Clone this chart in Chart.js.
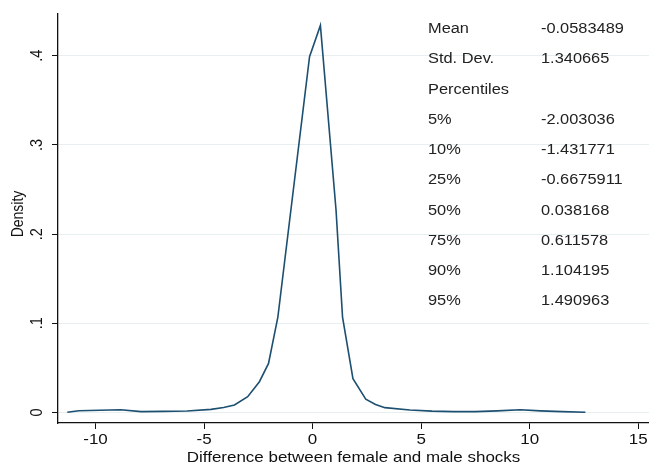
<!DOCTYPE html>
<html>
<head>
<meta charset="utf-8">
<script src="https://cdn.jsdelivr.net/npm/chart.js@4.4.1/dist/chart.umd.min.js"></script>
<style>
  html, body { margin: 0; padding: 0; background: #fff; }
</style>
</head>
<body>
<canvas id="densityChart" width="649" height="467"></canvas>
<script>
"use strict";

// kernel density of the female - male shock difference
const gridX = [-11.3, -10.77, -9.8, -8.84, -7.9, -6.9, -5.78, -4.68, -4.1, -3.6,
  -2.99, -2.45, -2.03, -1.6, -0.14, 0.36, 1.08, 1.38, 1.86, 2.45,
  2.9, 3.33, 4.48, 5.5, 6.5, 7.5, 8.5, 9.57, 10.5, 11.5, 12.57];
const density = [0.0002, 0.002, 0.0025, 0.003, 0.001, 0.0012, 0.0017, 0.0035, 0.0055, 0.0084,
  0.0177, 0.0345, 0.055, 0.107, 0.399, 0.434, 0.227, 0.107, 0.038, 0.015,
  0.009, 0.0054, 0.0028, 0.0015, 0.001, 0.001, 0.0018, 0.003, 0.0018, 0.001, 0.0002];

const xTicks = [-10, -5, 0, 5, 10, 15];
const yTicks = [0, 0.1, 0.2, 0.3, 0.4];

const statLabels = ["Mean", "Std. Dev.", "Percentiles", "5%", "10%", "25%", "50%", "75%", "90%", "95%"];
const statValues = ["-0.0583489", "1.340665", "", "-2.003036", "-1.431771", "-0.6675911",
  "0.038168", "0.611578", "1.104195", "1.490963"];

const xTitle = "Difference between female and male shocks";
const yTitle = "Density";

const FONT = "'Liberation Sans', Arial, Helvetica, sans-serif";
const SX = 1.17; // stata export is a bit wide

function yLabel(v) {
  if (v === 0) return "0";
  return v.toFixed(1).replace(/^0/, "");
}

function drawText(ctx, str, x, y, align, angle) {
  ctx.save();
  ctx.translate(x, y);
  ctx.scale(SX, 1);
  if (angle) ctx.rotate(angle);
  ctx.textAlign = align;
  ctx.textBaseline = "middle";
  ctx.fillText(str, 0, 0);
  ctx.restore();
}

const textPlugin = {
  id: "stataText",
  afterDraw(chart) {
    const ctx = chart.ctx;
    const xs = chart.scales.x;
    const ys = chart.scales.y;
    ctx.save();
    ctx.fillStyle = "#111";

    ctx.font = "14.5px " + FONT;
    xs.ticks.forEach((t) => {
      drawText(ctx, String(t.value), xs.getPixelForValue(t.value), 440, "center");
    });
    ys.ticks.forEach((t) => {
      drawText(ctx, yLabel(t.value), 37, ys.getPixelForValue(t.value), "center", -Math.PI / 2);
    });
    drawText(ctx, xTitle, (chart.chartArea.left + chart.chartArea.right) / 2, 458, "center");

    ctx.font = "14px " + FONT;
    drawText(ctx, yTitle, 18, 214, "center", -Math.PI / 2);

    ctx.fillStyle = "#222";
    statLabels.forEach((lab, i) => {
      const rowY = 29.3 + 30.26 * i;
      drawText(ctx, lab, 428, rowY, "left");
      if (statValues[i]) drawText(ctx, statValues[i], 541, rowY, "left");
    });
    ctx.restore();
  },
};

const ctx = document.getElementById("densityChart").getContext("2d");
const chart = new Chart(ctx, {
  type: "line",
  data: {
    datasets: [
      {
        data: gridX.map((x, i) => ({ x: x, y: density[i] })),
        borderColor: "#1d4f70",
        borderWidth: 1.6,
        pointRadius: 0,
        tension: 0,
        fill: false,
      },
    ],
  },
  options: {
    responsive: false,
    animation: false,
    events: [],
    layout: { padding: { top: 14, right: 0, left: 0, bottom: 0 } },
    plugins: { legend: { display: false }, tooltip: { enabled: false } },
    scales: {
      x: {
        type: "linear",
        min: -11.73,
        max: 15.5,
        afterBuildTicks: (s) => { s.ticks = xTicks.map((v) => ({ value: v })); },
        afterFit: (s) => { s.height = 44; },
        ticks: { display: false },
        grid: { drawOnChartArea: false, drawTicks: true, tickLength: 6, tickColor: "#111", tickWidth: 1 },
        border: { color: "#111", width: 1.3 },
      },
      y: {
        type: "linear",
        min: -0.0118,
        max: 0.4468,
        afterBuildTicks: (s) => { s.ticks = yTicks.map((v) => ({ value: v })); },
        afterFit: (s) => { s.width = 58; },
        ticks: { display: false },
        grid: { color: "#e7eff1", lineWidth: 1, drawTicks: true, tickLength: 6, tickColor: "#111", tickWidth: 1 },
        border: { color: "#111", width: 1.3 },
      },
    },
  },
  plugins: [textPlugin],
});
</script>
</body>
</html>
